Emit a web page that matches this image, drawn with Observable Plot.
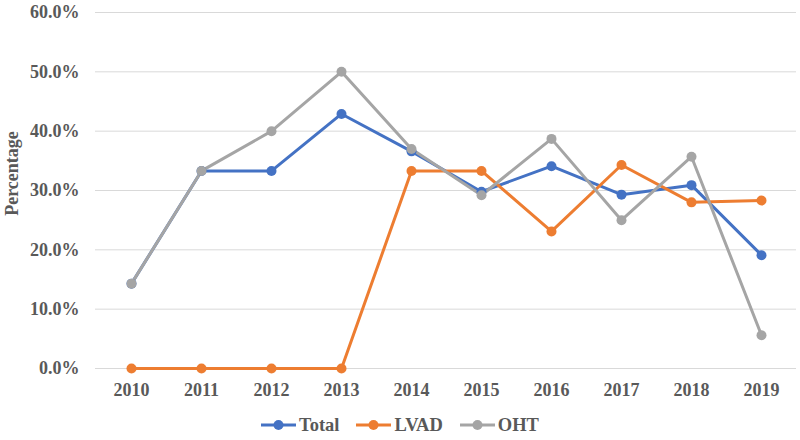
<!DOCTYPE html>
<html><head><meta charset="utf-8">
<script src="https://cdn.jsdelivr.net/npm/d3@7"></script>
<script src="https://cdn.jsdelivr.net/npm/@observablehq/plot@0.6"></script>
<style>
body{margin:0;background:#fff;font-family:"Liberation Serif","Times New Roman",serif;}
#legend{height:30px;display:flex;justify-content:center;align-items:center;gap:17px;font-weight:bold;font-size:18.5px;color:#595959;padding-left:0px;}
.item{display:flex;align-items:center;gap:3px;}
</style></head><body>
<div id="chart"></div>
<div id="legend"></div>
<script>
const years = [2010, 2011, 2012, 2013, 2014, 2015, 2016, 2017, 2018, 2019];
const seriesNames = ["Total", "LVAD", "OHT"];
const colors = ["#4472C4", "#ED7D31", "#A5A5A5"];
const total = [14.3, 33.3, 33.3, 42.9, 36.6, 29.8, 34.1, 29.3, 30.9, 19.1];
const lvad = [0, 0, 0, 0, 33.3, 33.3, 23.1, 34.3, 28.0, 28.3];
const oht = [14.3, 33.3, 40.0, 50.0, 37.0, 29.2, 38.7, 25.0, 35.7, 5.6];
const yTicks = [0, 0.1, 0.2, 0.3, 0.4, 0.5, 0.6];

const valuesBySeries = [total, lvad, oht];
const data = [];
seriesNames.forEach((s, i) => years.forEach((y, j) => data.push({series: s, year: String(y), value: valuesBySeries[i][j] / 100})));

const chart = Plot.plot({
  width: 800, height: 410,
  marginLeft: 95, marginRight: 4, marginTop: 12, marginBottom: 42,
  style: {fontFamily: '"Liberation Serif","Times New Roman",serif', fontWeight: "bold", fontSize: "18px", color: "#595959"},
  x: {type: "point", domain: years.map(String), padding: 0.5},
  y: {domain: [0, 0.6]},
  color: {domain: seriesNames, range: colors},
  marks: [
    Plot.gridY(yTicks, {stroke: "#d9d9d9", strokeOpacity: 1, strokeWidth: 1}),
    Plot.axisX({tickSize: 0, tickPadding: 15, fontSize: 18, fontWeight: "bold", label: null}),
    Plot.axisY({ticks: yTicks, tickFormat: d3.format(".1%"), tickSize: 0, tickPadding: 16, label: null, fontSize: 18}),
    Plot.text(["Percentage"], {frameAnchor: "left", textAnchor: "middle", dx: -83, dy: -17, rotate: -90, fontSize: 18, fontWeight: "bold", fill: "#595959"}),
    Plot.line(data, {x: "year", y: "value", z: "series", stroke: "series", strokeWidth: 3}),
    Plot.dot(data, {x: "year", y: "value", fill: "series", r: 5})
  ]
});
document.getElementById("chart").append(chart);

const legend = d3.select("#legend");
seriesNames.forEach((s, i) => {
  const it = legend.append("div").attr("class", "item");
  const sv = it.append("svg").attr("width", 35).attr("height", 12);
  sv.append("line").attr("x1", 0).attr("x2", 35).attr("y1", 6).attr("y2", 6).attr("stroke", colors[i]).attr("stroke-width", 3);
  sv.append("circle").attr("cx", 17.5).attr("cy", 6).attr("r", 5).attr("fill", colors[i]);
  it.append("span").text(s);
});
</script>
</body></html>
